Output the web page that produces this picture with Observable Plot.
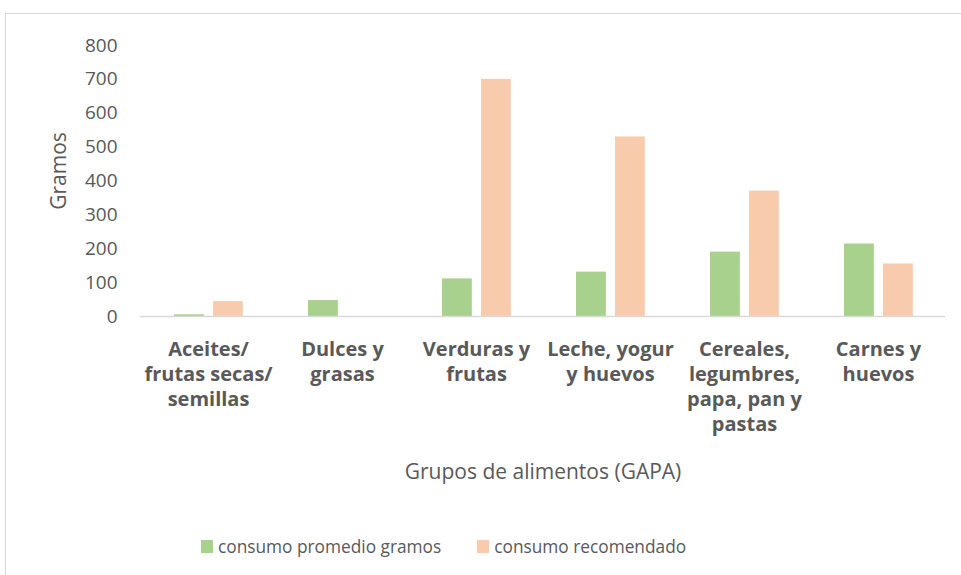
<!DOCTYPE html>
<html>
<head>
<meta charset="utf-8">
<script src="https://cdn.jsdelivr.net/npm/d3@7"></script>
<script src="https://cdn.jsdelivr.net/npm/@observablehq/plot@0.6"></script>
<style>
  html, body { margin: 0; padding: 0; background: #fff; overflow: hidden; width: 961px; height: 575px; }
  #frame { position: absolute; left: 5px; top: 13px; width: 2000px; height: 2000px;
           border-left: 1px solid #d9d9d9; border-top: 1px solid #d9d9d9; }
  #chart { position: absolute; left: 0; top: 0; }
  #legend { position: absolute; left: 201px; top: 535px; font-family: "Open Sans", sans-serif;
            font-size: 17.3px; color: #595959; display: flex; align-items: center; white-space: nowrap; }
  #legend .item { display: flex; align-items: center; }
  #legend .sw { width: 12px; height: 13px; margin-right: 5px; }
  #legend .item + .item { margin-left: 36px; }
</style>
</head>
<body>
<div id="frame"></div>
<div id="chart"></div>
<div id="legend"></div>
<script>
const categories = ["Aceites/frutas secas/semillas", "Dulces y grasas", "Verduras y frutas",
  "Leche, yogur y huevos", "Cereales, legumbres, papa, pan y pastas", "Carnes y huevos"];
const tickLabels = ["Aceites/\nfrutas secas/\nsemillas", "Dulces y\ngrasas", "Verduras y\nfrutas",
  "Leche, yogur\ny huevos", "Cereales,\nlegumbres,\npapa, pan y\npastas", "Carnes y\nhuevos"];
const seriesNames = ["consumo promedio gramos", "consumo recomendado"];
const consumoPromedio = [5, 47, 111, 131, 190, 214];
const consumoRecomendado = [44, 0, 700, 530, 370, 155];
const yTicks = [0, 100, 200, 300, 400, 500, 600, 700, 800];
const colors = ["#A9D18E", "#F8CBAD"];

const promedio = categories.map((c, i) => ({cat: c, value: consumoPromedio[i]}));
const recomendado = categories.map((c, i) => ({cat: c, value: consumoRecomendado[i]}));

const W = 961, H = 500, mL = 140, mR = 16, mT = 45, mB = 184;
const band = (W - mL - mR) / categories.length;
const font = "'Open Sans', sans-serif";
const txt = "#595959";

const chart = Plot.plot({
  width: W, height: H,
  marginLeft: mL, marginRight: mR, marginTop: mT, marginBottom: mB,
  style: {fontFamily: font, color: txt, background: "transparent"},
  x: {domain: categories, padding: 0},
  y: {domain: [0, 800]},
  marks: [
    Plot.barY(promedio, {x: "cat", y: "value", fill: colors[0], insetLeft: 33, insetRight: band - 63}),
    Plot.barY(recomendado, {x: "cat", y: "value", fill: colors[1], insetLeft: 72, insetRight: band - 102}),
    Plot.ruleY([0], {stroke: "#d9d9d9", strokeWidth: 1.5}),
    Plot.axisY({ticks: yTicks, tickSize: 0, tickPadding: 23, label: null, fontSize: 19, fill: txt}),
    Plot.axisX({tickSize: 0, tickPadding: 22, label: null, fontSize: 20, fontWeight: "bold", fill: txt,
      lineHeight: 1.25, tickFormat: d => tickLabels[categories.indexOf(d)]}),
    Plot.text(["Grupos de alimentos (GAPA)"], {frameAnchor: "bottom", dy: 162, fontSize: 21, fill: txt}),
    Plot.text(["Gramos"], {frameAnchor: "left", textAnchor: "middle", dx: -81, dy: -10, rotate: -90, fontSize: 21, fill: txt})
  ]
});
document.getElementById("chart").appendChild(chart);

const legend = document.getElementById("legend");
seriesNames.forEach((name, i) => {
  const item = document.createElement("div");
  item.className = "item";
  const sw = document.createElement("span");
  sw.className = "sw";
  sw.style.background = colors[i];
  const label = document.createElement("span");
  label.textContent = name;
  item.appendChild(sw);
  item.appendChild(label);
  legend.appendChild(item);
});
</script>
</body>
</html>
